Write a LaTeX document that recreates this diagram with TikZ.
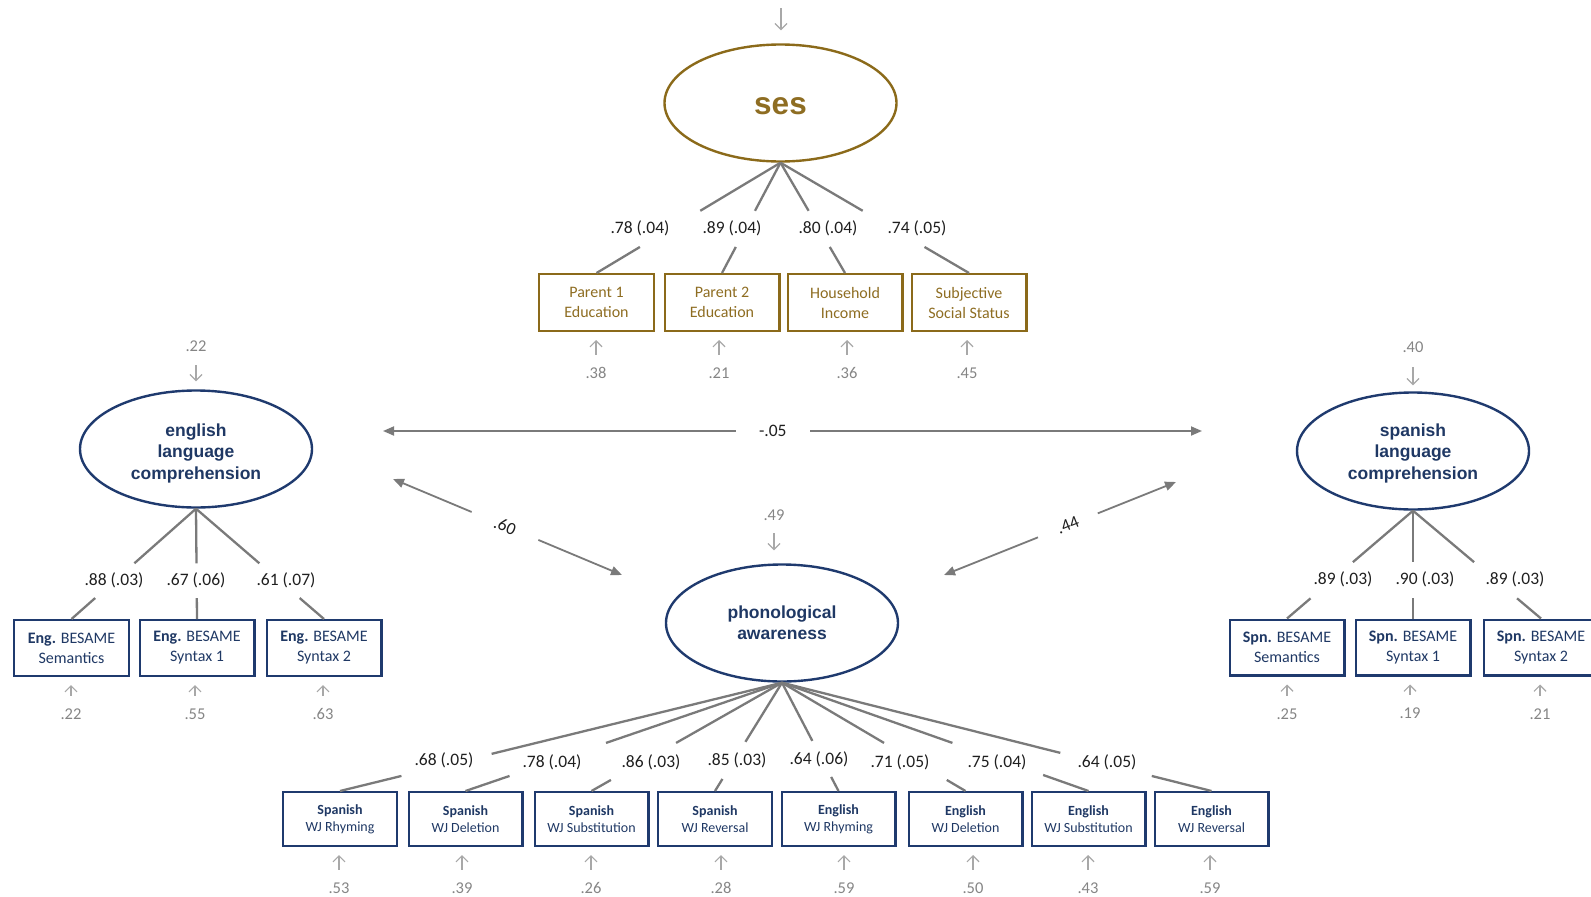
\documentclass[tikz,border=0pt]{standalone}
\usepackage{fontspec}
\setmainfont{Carlito}
\newfontfamily\headfont{Liberation Sans}
\usetikzlibrary{arrows.meta,shapes.geometric,calc}
\definecolor{sesgold}{HTML}{8B6A1A}
\definecolor{sestext}{HTML}{8E6D22}
\definecolor{navy}{HTML}{1F3A6E}
\definecolor{navytext}{HTML}{1F3864}
\definecolor{lnk}{HTML}{7A7A7A}
\definecolor{errc}{HTML}{A8A8A8}
\definecolor{errt}{HTML}{858585}
\newcommand\gapline[4]{%
  \path (#1) -- (#2) coordinate[pos=#3] (gA) coordinate[pos=#4] (gB);
  \draw[load] (#1) -- (gA);
  \draw[load] (gB) -- (#2);}
\newcommand\errarrow[2]{\draw[err,shorten <=13pt,shorten >=8pt] (#1.north) -- (#1.north |- #2.south);}
\newcommand\latlines[2]{\raisebox{#1}[\height][\depth]{\begin{tabular}{@{}c@{}}#2\end{tabular}}}
\begin{document}
\begin{tikzpicture}[x=1pt,y=-1pt,
  latent/.style={ellipse,draw=navy,line width=2.4pt,minimum width=232pt,minimum height=117pt,inner sep=0pt,align=center,text=navytext,font=\headfont\bfseries\fontsize{17.5}{21.5}\selectfont},
  obs/.style={rectangle,draw=navy,line width=2.4pt,minimum width=114.6pt,minimum height=55.6pt,inner sep=0pt,align=center,text=navytext,font=\fontsize{16}{20}\selectfont},
  obsP/.style={obs,minimum width=113.6pt,minimum height=53.6pt,font=\fontsize{14}{17}\selectfont},
  sesobs/.style={obs,draw=sesgold,text=sestext,minimum height=56.6pt},
  load/.style={draw=lnk,line width=2.3pt},
  lab/.style={inner sep=0pt,font=\fontsize{17.5}{21}\selectfont,text=black!88},
  err/.style={draw=errc,line width=1.2pt,-{Straight Barb[length=6pt,width=12pt]}},
  errlab/.style={inner sep=0pt,text height=10.5pt,text depth=0pt,font=\fontsize{16.5}{19}\selectfont,text=errt},
  cov/.style={draw=lnk,line width=1.8pt,{Triangle[length=11pt,width=9pt]}-{Triangle[length=11pt,width=9pt]}},
]
\useasboundingbox (0,0) rectangle (1591,897);
\clip (0,0) rectangle (1591,897);

% ---------------- SES ----------------
\node[latent,draw=sesgold,text=sestext,font=\headfont\bfseries\fontsize{31.5}{36}\selectfont] (ses) at (780.5,103) {\raisebox{-3pt}[\height][\depth]{ses}};
\coordinate (sesv) at (781,8);
\draw[err,shorten >=13pt] (sesv) -- (sesv |- ses.north);

\node[sesobs] (s1) at (596.5,302.5) {Parent 1\\Education};
\node[sesobs] (s2) at (722,302.5) {Parent 2\\Education};
\node[sesobs] (s3) at (845,302.5) {Household\\Income};
\node[sesobs] (s4) at (969,302.5) {Subjective\\Social Status};

\gapline{ses.south}{s1.north}{0.436}{0.764}
\gapline{ses.south}{s2.north}{0.436}{0.764}
\gapline{ses.south}{s3.north}{0.436}{0.764}
\gapline{ses.south}{s4.north}{0.436}{0.764}

\node[lab] (ls1) at (640,228) {.78 (.04)};
\node[lab] (ls2) at (732,228) {.89 (.04)};
\node[lab] (ls3) at (828,228) {.80 (.04)};
\node[lab] (ls4) at (917,228) {.74 (.05)};

\node[errlab] (es1) at (596,373) {.38};
\node[errlab] (es2) at (719,373) {.21};
\node[errlab] (es3) at (847,373) {.36};
\node[errlab] (es4) at (967,373) {.45};
\errarrow{es1}{s1}
\errarrow{es2}{s2}
\errarrow{es3}{s3}
\errarrow{es4}{s4}

% ---------------- English ----------------
\node[latent] (eng) at (196,449) {\latlines{-4.5pt}{english\\language\\comprehension}};
\node[errlab] (veng) at (196,346) {.22};
\draw[err,shorten <=14pt,shorten >=8pt] (veng.south) -- (veng.south |- eng.north);

\node[obs] (e1) at (71.5,648) {\textbf{Eng.} BESAME\\Semantics};
\node[obs] (e2) at (197,648) {\textbf{Eng.} BESAME\\Syntax 1};
\node[obs] (e3) at (324,648) {\textbf{Eng.} BESAME\\Syntax 2};

\gapline{eng.south}{e1.north}{0.495}{0.81}
\gapline{eng.south}{e2.north}{0.495}{0.81}
\gapline{eng.south}{e3.north}{0.495}{0.81}

\node[lab] (le1) at (114,580) {.88 (.03)};
\node[lab] (le2) at (196,580) {.67 (.06)};
\node[lab] (le3) at (286,580) {.61 (.07)};

\node[errlab] (ee1) at (71,714) {.22};
\node[errlab] (ee2) at (195,714) {.55};
\node[errlab] (ee3) at (323,714) {.63};
\errarrow{ee1}{e1}
\errarrow{ee2}{e2}
\errarrow{ee3}{e3}

% ---------------- Spanish ----------------
\node[latent] (spn) at (1413,451) {\latlines{-2.5pt}{spanish\\language\\comprehension}};
\node[errlab] (vspn) at (1413,347) {.40};
\draw[err,shorten <=14.5pt,shorten >=6pt] (vspn.south) -- (vspn.south |- spn.north);

\node[obs] (n1) at (1287,647.5) {\textbf{Spn.} BESAME\\Semantics};
\node[obs] (n2) at (1413,647.5) {\textbf{Spn.} BESAME\\Syntax 1};
\node[obs] (n3) at (1541,647.5) {\textbf{Spn.} BESAME\\Syntax 2};

\gapline{spn.south}{n1.north}{0.477}{0.813}
\gapline{spn.south}{n2.north}{0.477}{0.813}
\gapline{spn.south}{n3.north}{0.477}{0.813}

\node[lab] (ln1) at (1343,579) {.89 (.03)};
\node[lab] (ln2) at (1425,579) {.90 (.03)};
\node[lab] (ln3) at (1515,579) {.89 (.03)};

\node[errlab] (en1) at (1287,714) {.25};
\node[errlab] (en2) at (1410,713) {.19};
\node[errlab] (en3) at (1540,714) {.21};
\errarrow{en1}{n1}
\errarrow{en2}{n2}
\errarrow{en3}{n3}

% ---------------- Phonological awareness ----------------
\node[latent] (pa) at (782,623) {\latlines{-1.5pt}{phonological\\awareness}};
\node[errlab] (vpa) at (774,515) {.49};
\draw[err,shorten <=12.75pt,shorten >=13pt] (vpa.south) -- (vpa.south |- pa.north);

\node[obsP] (p1) at (340,819) {\textbf{Spanish}\\WJ Rhyming};
\node[obsP] (p2) at (465.5,819) {\textbf{Spanish}\\WJ Deletion};
\node[obsP] (p3) at (591.5,819) {\textbf{Spanish}\\WJ Substitution};
\node[obsP] (p4) at (715,819) {\textbf{Spanish}\\WJ Reversal};
\node[obsP] (p5) at (838.5,819) {\textbf{English}\\WJ Rhyming};
\node[obsP] (p6) at (965.5,819) {\textbf{English}\\WJ Deletion};
\node[obsP] (p7) at (1088.5,819) {\textbf{English}\\WJ Substitution};
\node[obsP] (p8) at (1211.5,819) {\textbf{English}\\WJ Reversal};

\gapline{pa.south}{p1.north}{0.657}{0.861}
\gapline{pa.south}{p2.north}{0.556}{0.861}
\gapline{pa.south}{p3.north}{0.556}{0.898}
\gapline{pa.south}{p4.north}{0.546}{0.889}
\gapline{pa.south}{p5.north}{0.537}{0.870}
\gapline{pa.south}{p6.north}{0.556}{0.898}
\gapline{pa.south}{p7.north}{0.556}{0.852}
\gapline{pa.south}{p8.north}{0.648}{0.861}

\node[lab] (lp1) at (444,760) {.68 (.05)};
\node[lab] (lp2) at (552,762) {.78 (.04)};
\node[lab] (lp3) at (651,762) {.86 (.03)};
\node[lab] (lp4) at (737,760) {.85 (.03)};
\node[lab] (lp5) at (819,759) {.64 (.06)};
\node[lab] (lp6) at (900,762) {.71 (.05)};
\node[lab] (lp7) at (997,762) {.75 (.04)};
\node[lab] (lp8) at (1107,762) {.64 (.05)};

\node[errlab] (ep1) at (339,888) {.53};
\node[errlab] (ep2) at (462,888) {.39};
\node[errlab] (ep3) at (591,888) {.26};
\node[errlab] (ep4) at (721,888) {.28};
\node[errlab] (ep5) at (844,888) {.59};
\node[errlab] (ep6) at (973,888) {.50};
\node[errlab] (ep7) at (1088,888) {.43};
\node[errlab] (ep8) at (1210,888) {.59};
\errarrow{ep1}{p1}
\errarrow{ep2}{p2}
\errarrow{ep3}{p3}
\errarrow{ep4}{p4}
\errarrow{ep5}{p5}
\errarrow{ep6}{p6}
\errarrow{ep7}{p7}
\errarrow{ep8}{p8}

% ---------------- Covariances ----------------
\coordinate (cEL) at (383,431);
\coordinate (cER) at (1202,431);
\draw[cov] (cEL) -- node[pos=0.476,fill=white,lab,inner xsep=23pt,inner ysep=3pt] (c05) {-.05} (cER);

\coordinate (cL1) at (393,479);
\coordinate (cL2) at (622,575);
\draw[cov] (cL1) -- node[pos=0.489,sloped,fill=white,lab,inner xsep=25pt,inner ysep=3pt] (c60) {.60} (cL2);

\coordinate (cR1) at (944,575);
\coordinate (cR2) at (1176,482);
\draw[cov] (cR1) -- node[pos=0.534,sloped,fill=white,lab,inner xsep=21pt,inner ysep=3pt] (c44) {.44} (cR2);
\end{tikzpicture}
\end{document}
